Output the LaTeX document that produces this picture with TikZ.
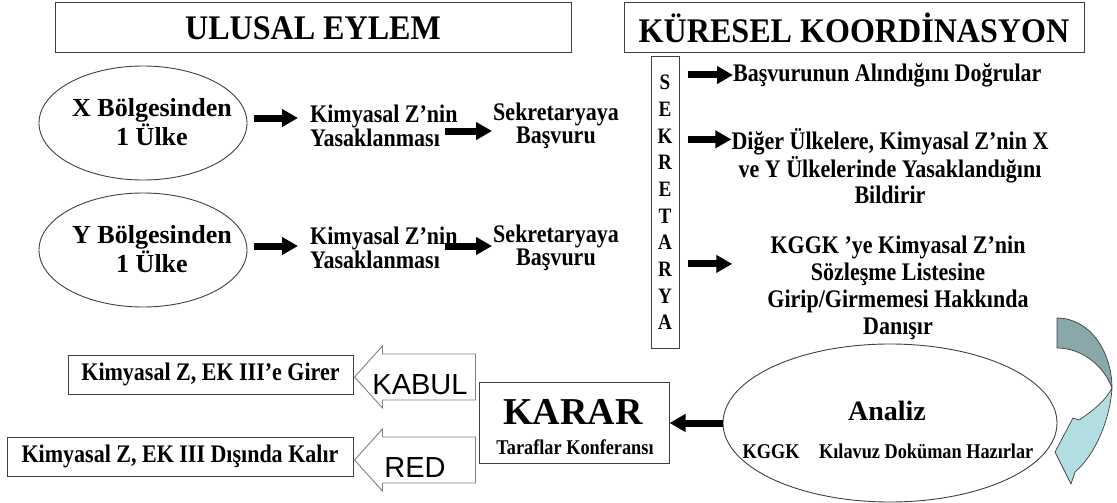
\documentclass[tikz,border=0pt]{standalone}
\usepackage{fontspec}
\setmainfont{Liberation Serif}
\newfontfamily\sansarial{Liberation Sans}
\newfontfamily\narrowserif{Liberation Serif}[FakeStretch=0.87]
\newfontfamily\headserif{Liberation Serif}[FakeStretch=0.93]
\usetikzlibrary{arrows.meta,calc,shapes.geometric}
\definecolor{edge}{HTML}{404040}
\definecolor{softedge}{HTML}{808080}
\definecolor{backface}{HTML}{88A8AA}
\definecolor{frontface}{HTML}{B3DEE1}
\tikzset{
  box/.style={draw=edge, line width=1pt, fill=white, inner sep=0pt},
  oval/.style={ellipse, draw=edge, line width=0.9pt, inner sep=0pt},
  title/.style={font=\headserif\fontsize{34.5pt}{36pt}\selectfont\bfseries},
  body/.style={font=\narrowserif\fontsize{25.3pt}{22pt}\selectfont\bfseries, inner sep=0pt},
  ovaltext/.style={font=\fontsize{26pt}{29pt}\selectfont\bfseries, inner sep=0pt, align=center},
  blk/.style={line width=7pt, -{Triangle[length=16pt,width=17pt]}},
  hollow/.style={draw=softedge, fill=white, line width=0.9pt},
  labelsans/.style={font=\sansarial\fontsize{29pt}{29pt}\selectfont, inner sep=0pt},
  ribbon/.style={draw=edge, line width=0.7pt, line join=round},
}
% left-pointing hollow block arrow, started at the top right corner of its shaft
\newcommand\leftblock{-- ++(-93,0) -- ++(0,-8) -- ++(-28,31) -- ++(28,31) -- ++(0,-8) -- ++(93,0) -- cycle}
\begin{document}
\begin{tikzpicture}[x=1pt,y=-1pt]
\useasboundingbox (0,0) rectangle (1117,503);

% headings
\node[box, minimum width=516pt, minimum height=50pt, title] (ulusal) at (313,28) {ULUSAL EYLEM};
\node[box, minimum width=460pt, minimum height=50pt, title] (kuresel) at (854,28) {KÜRESEL KOORDİNASYON};

% national action, first row
\node[oval, minimum width=208pt, minimum height=114pt] (ex) at (143,123) {};
\node[ovaltext] (extxt) at (152,122) {X Bölgesinden\\1 Ülke};
\node[body, align=left, anchor=west] (kz1) at (310,126) {Kimyasal Z’nin\\Yasaklanması};
\node[body, align=center] (sb1) at (556,126) {Sekretaryaya\\Başvuru};
\draw[blk] ($(ex.east)+(7,-5)$) -- ($(kz1.west)+(-12,-8)$);
\draw[blk] ($(kz1.east)+(-13,5)$) -- ($(sb1.west)+(-1,5)$);

% national action, second row
\node[oval, minimum width=208pt, minimum height=114pt] (ey) at (143,250) {};
\node[ovaltext] (eytxt) at (152,249) {Y Bölgesinden\\1 Ülke};
\node[body, align=left, anchor=west] (kz2) at (310,248) {Kimyasal Z’nin\\Yasaklanması};
\node[body, align=center] (sb2) at (556,248) {Sekretaryaya\\Başvuru};
\draw[blk] ($(ey.east)+(7,-4)$) -- ($(kz2.west)+(-12,-2)$);
\draw[blk] ($(kz2.east)+(-13,-2)$) -- ($(sb2.west)+(-1,-2)$);

% secretariat column
\node[box, minimum width=28pt, minimum height=291pt, align=center,
      font=\narrowserif\fontsize{22pt}{26.7pt}\selectfont\bfseries] (sek) at (665,202.5)
      {S\\E\\K\\R\\E\\T\\A\\R\\Y\\A};

% secretariat tasks
\node[body, anchor=west] (r1) at (733,75) {Başvurunun Alındığını Doğrular};
\node[body, align=center, font=\narrowserif\fontsize{25.3pt}{26pt}\selectfont\bfseries] (r2) at (890,166)
  {Diğer Ülkelere, Kimyasal Z’nin X\\ve Y Ülkelerinde Yasaklandığını\\Bildirir};
\node[body, align=center, font=\narrowserif\fontsize{25.3pt}{27pt}\selectfont\bfseries] (r3) at (898,288)
  {KGGK ’ye Kimyasal Z’nin\\Sözleşme Listesine\\Girip/Girmemesi Hakkında\\Danışır};
\coordinate (r2in) at ($(r2.north west)+(0,11)$);
\coordinate (r3in) at ($(r3.north west)+(-35,28)$);
\draw[blk] ([xshift=8pt]sek.east |- r1.west) -- (r1.west);
\draw[blk] ([xshift=8pt]sek.east |- r2in) -- (r2in);
\draw[blk] ([xshift=8pt]sek.east |- r3in) -- (r3in);

% analysis
\node[oval, minimum width=334pt, minimum height=158pt] (an) at (890,423) {};
\node[font=\fontsize{28pt}{28pt}\selectfont\bfseries, inner sep=0pt] (antitle) at (887,411) {Analiz};
\node[font=\narrowserif\fontsize{21pt}{21pt}\selectfont\bfseries, inner sep=0pt] (antext) at (888,451)
  {KGGK\hspace{15pt} Kılavuz Doküman Hazırlar};

% curved arrow leading into the analysis
\fill[backface, ribbon] (1057,318) .. controls (1090,318) and (1112,352) .. (1112,388)
  .. controls (1104,366) and (1082,348) .. (1057,348) -- cycle;
\fill[frontface, ribbon] (1112,388) .. controls (1110,420) and (1095,455) .. (1075,472)
  -- (1071,484) -- (1055,452) -- (1073,418) -- (1079,420)
  .. controls (1094,410) and (1106,400) .. (1112,388) -- cycle;

% decision
\node[box, minimum width=190pt, minimum height=81pt] (karar) at (574,422.5) {};
\node[font=\fontsize{38pt}{38pt}\selectfont\bfseries, inner sep=0pt] (karartitle) at (573,412) {KARAR};
\node[font=\narrowserif\fontsize{21pt}{21pt}\selectfont\bfseries, inner sep=0pt] (kararsub) at (575,447) {Taraflar Konferansı};
\draw[blk] (an.west) -- (karar.east |- an.west);

% outcomes
\node[box, minimum width=285pt, minimum height=39pt, body] (gir) at (210.5,374.5) {Kimyasal Z, EK III’e Girer};
\node[box, minimum width=346pt, minimum height=39pt, body] (kal) at (180,456.5) {Kimyasal Z, EK III Dışında Kalır};

\coordinate (kabultail) at ($(karar.west |- gir.east)+(-3,2.5)$);
\coordinate (redtail) at ($(karar.west |- kal.east)+(-3,3.5)$);
\draw[hollow] ($(kabultail)+(0,-23)$) \leftblock;
\draw[hollow] ($(redtail)+(0,-23)$) \leftblock;
\node[labelsans] (kabul) at (420,385) {KABUL};
\node[labelsans] (red) at (415,468) {RED};
\end{tikzpicture}
\end{document}
